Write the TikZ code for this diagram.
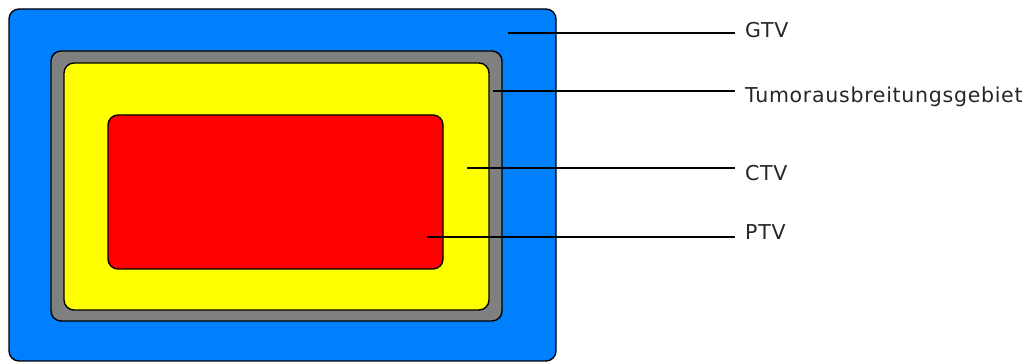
\documentclass[tikz,border=0pt]{standalone}
\usepackage{fontspec}
\setmainfont{DejaVu Sans}[LetterSpace=3.5]
\definecolor{zoneblue}{RGB}{0,128,255}
\definecolor{zonegray}{RGB}{128,128,128}
\definecolor{zoneyellow}{RGB}{255,255,0}
\definecolor{zonered}{RGB}{255,0,0}
\begin{document}
\begin{tikzpicture}[x=1pt,y=-1pt,
  zone/.style={draw=black,line width=1.4pt,rounded corners=10pt},
  lbl/.style={anchor=base west,inner sep=0pt,font=\fontsize{20.5}{24}\selectfont,text=black!85},
  leader/.style={draw=black,line width=1.2pt}]
\useasboundingbox (0,0) rectangle (1026,363);
\path[zone,fill=zoneblue] (9,9) rectangle (556,361);
\path[zone,fill=zonegray] (51,51) rectangle (502,321);
\path[zone,fill=zoneyellow] (64,63) rectangle (489,310);
\path[zone,fill=zonered] (108,115) rectangle (443,269);
\coordinate (sGTV) at (508,33);
\coordinate (sTum) at (493,91);
\coordinate (sCTV) at (467,168);
\coordinate (sPTV) at (427,237);
\node[lbl] (lGTV) at (745,38) {GTV};
\node[lbl] (lTum) at (745,103) {Tumorausbreitungsgebiet};
\node[lbl] (lCTV) at (745,181) {CTV};
\node[lbl] (lPTV) at (745,240) {PTV};
\draw[leader] (sGTV) -- ([xshift=-10pt]sGTV -| lGTV.west);
\draw[leader] (sTum) -- ([xshift=-10pt]sTum -| lTum.west);
\draw[leader] (sCTV) -- ([xshift=-10pt]sCTV -| lCTV.west);
\draw[leader] (sPTV) -- ([xshift=-10pt]sPTV -| lPTV.west);
\end{tikzpicture}
\end{document}
